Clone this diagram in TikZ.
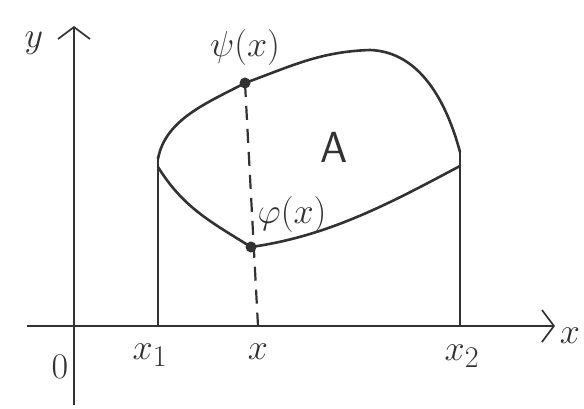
\documentclass[tikz,border=0pt]{standalone}
\usetikzlibrary{arrows.meta}
\definecolor{ink}{RGB}{50,50,50}
\tikzset{
  axisline/.style={draw=ink, line width=1.7pt},
  curve/.style={draw=ink, line width=2.6pt, line join=round, line cap=round},
  thinline/.style={draw=ink, line width=1.7pt},
  dashline/.style={draw=ink, line width=2.2pt, dash pattern=on 14pt off 9pt},
  lbl/.style={inner sep=0pt, text=ink, font=\Huge, scale=1.45, transform shape},
  biglbl/.style={inner sep=0pt, text=ink, font=\Huge\sffamily, scale=1.75, transform shape},
  dot/.style={circle, fill=ink, inner sep=0pt, minimum size=11pt},
  barb/.style={-{Straight Barb[length=12pt,width=32pt,line width=1.7pt]}}
}
\begin{document}
\begin{tikzpicture}[x=1pt,y=1pt]
\useasboundingbox (0,0) rectangle (584,409);
% axis ends
\coordinate (xs) at (27,83);
\coordinate (xe) at (555,83);
\coordinate (ys) at (74,4);
\coordinate (ye) at (74,383);
\draw[axisline,barb] (xs) -- (xe);
\draw[axisline,barb] (ys) -- (ye);
% key points
\coordinate (Lt) at (158,250);
\coordinate (Lb) at (158,242);
\coordinate (Rt) at (460,257);
\coordinate (Rb) at (460,243);
\coordinate (Top) at (370,359);
\coordinate (x1a) at (158,83);
\coordinate (x2a) at (460,83);
\coordinate (xa) at (258,83);
\node[dot] (psi) at (245,326) {};
\node[dot] (phi) at (251,162) {};
% region
\draw[curve] (Lt) to[out=80,in=208,looseness=0.9] (psi.center)
  to[out=20,in=182] (Top) to[out=-2,in=105,looseness=0.95] (Rt);
\draw[curve] (Lb) to[out=-58,in=148] (phi.center)
  to[out=8,in=208,looseness=0.9] (Rb);
\draw[curve] (Lt) -- (Lb);
\draw[curve] (Rt) -- (Rb);
% verticals
\draw[thinline] (Lb) -- (x1a);
\draw[thinline] (Rb) -- (x2a);
\draw[dashline] (psi.center) -- (xa);
% labels
\node[lbl] (ylab) at (34,366) {$y$};
\node[lbl] (xlab) at (570,73) {$x$};
\node[lbl] (O) at (60,42) {$0$};
\node[lbl] (x1) at (150,54) {$x_1$};
\node[lbl] (xx) at (258,57) {$x$};
\node[lbl] (x2) at (462,53) {$x_2$};
\node[lbl] (psil) at (245,362) {$\psi(x)$};
\node[lbl] (phil) at (292,195) {$\varphi(x)$};
\node[biglbl] (A) at (334,262) {A};
\end{tikzpicture}
\end{document}
